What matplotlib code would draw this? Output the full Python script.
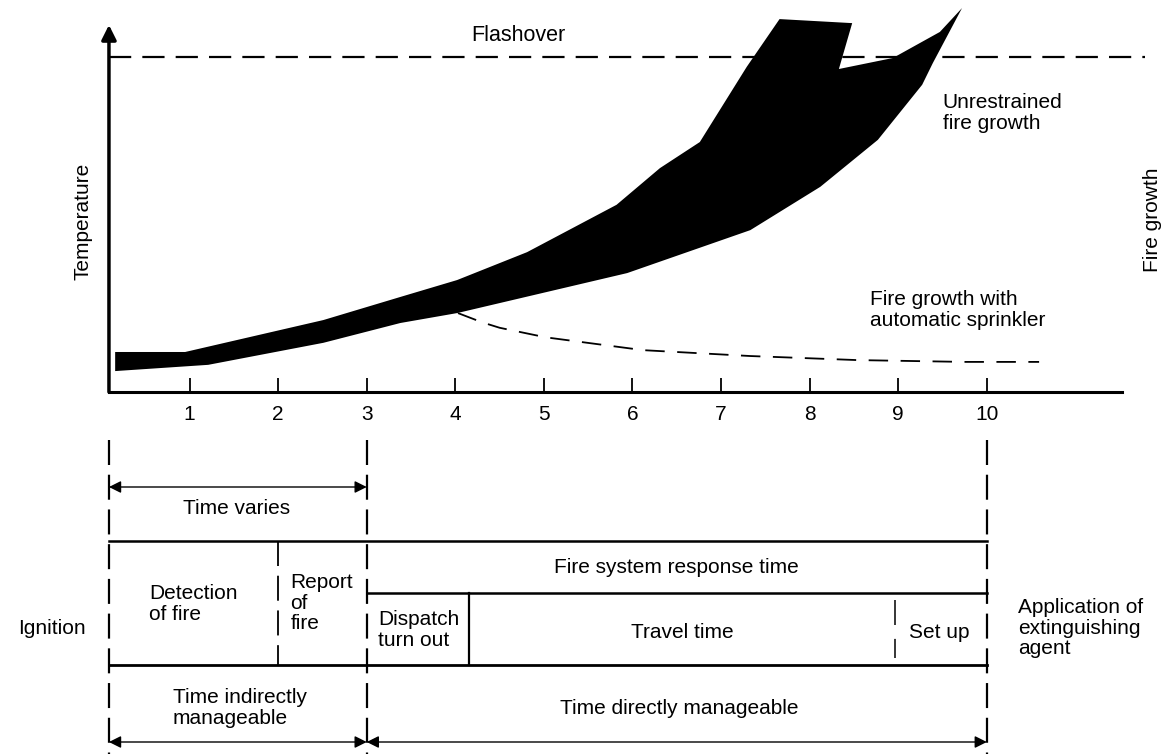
import matplotlib.pyplot as plt

plt.rcParams['font.family'] = ['Liberation Sans', 'DejaVu Sans']
plt.rcParams['lines.scale_dashes'] = False

# Datos (tiempo, temperatura)
ticks = [1, 2, 3, 4, 5, 6, 7, 8, 9, 10]
upper_x = [0.16, 0.95, 2.51, 3.38, 4.02, 4.81, 5.82, 6.31, 6.76, 7.29, 7.66, 8.48, 8.33, 8.94, 9.47, 9.72]
upper_y = [10.9, 10.9, 19.6, 25.9, 30.5, 38.1, 51.0, 61.0, 68.1, 88.6, 101.6, 100.5, 88.0, 91.0, 98.1, 104.6]
lower_x = [9.39, 9.27, 8.77, 8.12, 7.33, 5.94, 4.02, 3.38, 2.51, 1.21, 0.16]
lower_y = [89.6, 83.7, 68.7, 55.9, 44.1, 32.4, 21.5, 18.8, 13.4, 7.4, 5.7]
sprinkler_x = [4.03, 4.3, 4.5, 5.02, 6.12, 7.33, 8.53, 9.74, 10.59]
sprinkler_y = [21.5, 19.0, 17.5, 14.9, 11.4, 9.8, 8.7, 8.2, 8.2]
flashover = 91.3

# Fases (tiempo)
t_start = 0.09
t_detect = 2.0
t_report = 3.0
t_dispatch = 4.15
t_travel = 8.96
t_apply = 10.0

fig = plt.figure(figsize=(11.64, 7.54), dpi=100)

# Grafico superior
ax = fig.add_axes([0, 1 - 392 / 754, 1, 392 / 754])
ax.set_xlim(-1.14, 12.0)
ax.set_ylim(0, 106.8)
for s in ['top', 'right', 'left']:
    ax.spines[s].set_visible(False)
ax.spines['bottom'].set_bounds(t_start, 11.53)
ax.spines['bottom'].set_linewidth(2.2)
ax.set_xticks(ticks)
ax.set_yticks([])
ax.tick_params(axis='x', direction='in', length=10, width=1.3, labelsize=15, pad=9)

ax.plot([t_start, 11.78], [flashover, flashover], color='black', lw=1.6, dashes=(16, 8))
ax.plot(sprinkler_x, sprinkler_y, color='black', lw=1.3, dashes=(14, 9))
ax.fill(upper_x + lower_x, upper_y + lower_y, color='black', lw=0, zorder=3)
ax.annotate('', xy=(t_start, 100), xytext=(t_start, 0),
            arrowprops=dict(arrowstyle='-|>', lw=2.5, color='black', mutation_scale=22,
                            shrinkA=0, shrinkB=0))

ax.text(4.71, 97, 'Flashover', fontsize=15.5, ha='center', va='center')
ax.text(9.50, 76, 'Unrestrained\nfire growth', fontsize=15, ha='left', va='center', linespacing=1.1)
ax.text(8.68, 22.3, 'Fire growth with\nautomatic sprinkler', fontsize=15, ha='left', va='center', linespacing=1.1)
ax.text(11.87, 47, 'Fire growth', fontsize=15, rotation=90, ha='center', va='center')
ax.text(-0.20, 46.6, 'Temperature', fontsize=15, rotation=90, ha='center', va='center')

# Diagrama inferior
ax2 = fig.add_axes([0, 0, 1, 324 / 754])
ax2.set_xlim(-1.14, 12.0)
ax2.set_ylim(754, 430)
ax2.axis('off')

dash_v = (18, 7)
for t in [t_start, t_report, t_apply]:
    ax2.plot([t, t], [440, 754], color='black', lw=1.6, dashes=dash_v)
ax2.plot([t_detect, t_detect], [541, 665], color='black', lw=1.3, dashes=dash_v)
ax2.plot([t_travel, t_travel], [600, 658], color='black', lw=1.1, dashes=(18, 10))
ax2.plot([t_dispatch, t_dispatch], [593, 665], color='black', lw=1.6)

ax2.plot([t_start, t_apply], [541, 541], color='black', lw=1.8)
ax2.plot([t_report, t_apply], [593, 593], color='black', lw=1.8)
ax2.plot([t_start, t_apply], [665, 665], color='black', lw=2.0)

arrow = dict(arrowstyle='<|-|>', lw=1.0, color='black', mutation_scale=18, shrinkA=0, shrinkB=0)
ax2.annotate('', xy=(t_start, 487), xytext=(t_report, 487), arrowprops=arrow)
ax2.annotate('', xy=(t_start, 742), xytext=(t_report, 742), arrowprops=arrow)
ax2.annotate('', xy=(t_report, 742), xytext=(t_apply, 742), arrowprops=arrow)

fs = 15
ls = 1.1
ax2.text(1.53, 508, 'Time varies', fontsize=fs, ha='center', va='center')
ax2.text(0.54, 604, 'Detection\nof fire', fontsize=fs, ha='left', va='center', linespacing=ls)
ax2.text(2.14, 603, 'Report\nof\nfire', fontsize=fs, ha='left', va='center', linespacing=ls)
ax2.text(6.50, 567, 'Fire system response time', fontsize=fs, ha='center', va='center')
ax2.text(3.13, 630, 'Dispatch\nturn out', fontsize=fs, ha='left', va='center', linespacing=ls)
ax2.text(6.56, 632, 'Travel time', fontsize=fs, ha='center', va='center')
ax2.text(9.46, 632, 'Set up', fontsize=fs, ha='center', va='center')
ax2.text(0.81, 708, 'Time indirectly\nmanageable', fontsize=fs, ha='left', va='center', linespacing=ls)
ax2.text(6.53, 708, 'Time directly manageable', fontsize=fs, ha='center', va='center')
ax2.text(-0.55, 628, 'Ignition', fontsize=fs, ha='center', va='center')
ax2.text(10.35, 628, 'Application of\nextinguishing\nagent', fontsize=fs, ha='left', va='center', linespacing=ls)

fig.savefig('out.png', dpi=100)
